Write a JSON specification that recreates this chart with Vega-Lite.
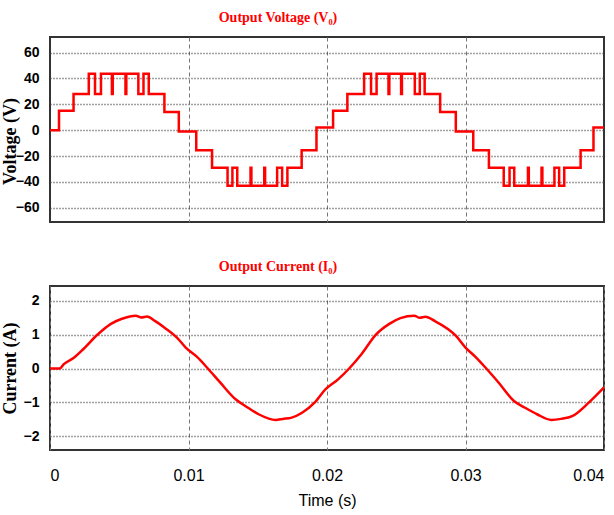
{
  "$schema": "https://vega.github.io/schema/vega-lite/v6.json",
  "padding": {"left": 0, "top": 10, "right": 0, "bottom": 0},
  "background": "white",
  "config": {
    "view": {"stroke": "#333", "strokeWidth": 2},
    "axis": {
      "labelFont": "Liberation Sans",
      "labelFontSize": 14, "labelColor": "#000", "labelFontWeight": "bold",
      "titleFont": "Liberation Serif", "titleFontWeight": "bold", "titleFontSize": 18, "titleColor": "#000",
      "ticks": false, "domain": false,
      "gridColor": "#444", "gridDash": [1, 2], "gridOpacity": 1, "gridWidth": 1.4
    },
    "title": {"font": "Liberation Serif", "fontSize": 14, "fontWeight": "bold", "color": "#ff0000", "anchor": "middle", "dx": -49, "offset": 12, "baseline": "alphabetic"},
    "concat": {"spacing": 36}
  },
  "datasets": {
    "volt": [
      {"t": 0, "v": 0}, {"t": 0.00065, "v": 15}, {"t": 0.0017, "v": 28}, {"t": 0.0028, "v": 43.5},
      {"t": 0.00325, "v": 28}, {"t": 0.00368, "v": 43.5}, {"t": 0.00447, "v": 28}, {"t": 0.00453, "v": 43.5},
      {"t": 0.00545, "v": 28}, {"t": 0.00551, "v": 43.5}, {"t": 0.00638, "v": 28}, {"t": 0.00675, "v": 43.5},
      {"t": 0.00713, "v": 28}, {"t": 0.00826, "v": 14}, {"t": 0.0093, "v": -1}, {"t": 0.01056, "v": -15.5},
      {"t": 0.0117, "v": -29}, {"t": 0.01282, "v": -43}, {"t": 0.01317, "v": -29}, {"t": 0.01352, "v": -43},
      {"t": 0.01448, "v": -29}, {"t": 0.01454, "v": -43}, {"t": 0.01547, "v": -29}, {"t": 0.01553, "v": -43},
      {"t": 0.0164, "v": -29}, {"t": 0.01676, "v": -43}, {"t": 0.01714, "v": -29}, {"t": 0.01817, "v": -15.5},
      {"t": 0.01924, "v": 2}, {"t": 0.02044, "v": 15}, {"t": 0.02147, "v": 28}, {"t": 0.02268, "v": 43.5},
      {"t": 0.02318, "v": 28}, {"t": 0.02358, "v": 43.5}, {"t": 0.02444, "v": 28}, {"t": 0.0245, "v": 43.5},
      {"t": 0.02535, "v": 28}, {"t": 0.02541, "v": 43.5}, {"t": 0.02634, "v": 28}, {"t": 0.0267, "v": 43.5},
      {"t": 0.02705, "v": 28}, {"t": 0.02817, "v": 14}, {"t": 0.0293, "v": -1}, {"t": 0.03056, "v": -15.5},
      {"t": 0.03169, "v": -29}, {"t": 0.03276, "v": -43}, {"t": 0.03318, "v": -29}, {"t": 0.03352, "v": -43},
      {"t": 0.03451, "v": -29}, {"t": 0.03457, "v": -43}, {"t": 0.03549, "v": -29}, {"t": 0.03555, "v": -43},
      {"t": 0.03642, "v": -29}, {"t": 0.03676, "v": -43}, {"t": 0.03713, "v": -29}, {"t": 0.03831, "v": -15.5},
      {"t": 0.03924, "v": 2}, {"t": 0.04, "v": 2}
    ],
    "cur": [
      {"t": 0, "i": 0}, {"t": 0.0007, "i": 0}, {"t": 0.001, "i": 0.13}, {"t": 0.0017, "i": 0.31},
      {"t": 0.0024, "i": 0.57}, {"t": 0.0034, "i": 0.99}, {"t": 0.0044, "i": 1.32}, {"t": 0.0052, "i": 1.47},
      {"t": 0.0062, "i": 1.56}, {"t": 0.0066, "i": 1.51}, {"t": 0.007, "i": 1.54}, {"t": 0.0076, "i": 1.4},
      {"t": 0.0083, "i": 1.2}, {"t": 0.0092, "i": 0.9}, {"t": 0.0098, "i": 0.62}, {"t": 0.0106, "i": 0.35},
      {"t": 0.0114, "i": 0}, {"t": 0.0123, "i": -0.42}, {"t": 0.0134, "i": -0.91}, {"t": 0.0143, "i": -1.16},
      {"t": 0.0151, "i": -1.36}, {"t": 0.0163, "i": -1.52}, {"t": 0.0168, "i": -1.49}, {"t": 0.0174, "i": -1.46},
      {"t": 0.0182, "i": -1.31}, {"t": 0.0191, "i": -1.01}, {"t": 0.0199, "i": -0.61}, {"t": 0.0208, "i": -0.32},
      {"t": 0.0216, "i": 0}, {"t": 0.0225, "i": 0.43}, {"t": 0.0235, "i": 0.99}, {"t": 0.0245, "i": 1.32},
      {"t": 0.0253, "i": 1.49}, {"t": 0.0263, "i": 1.56}, {"t": 0.0267, "i": 1.5}, {"t": 0.0271, "i": 1.53},
      {"t": 0.0278, "i": 1.4}, {"t": 0.0293, "i": 0.97}, {"t": 0.03, "i": 0.62}, {"t": 0.0307, "i": 0.35},
      {"t": 0.0315, "i": 0}, {"t": 0.0324, "i": -0.42}, {"t": 0.0335, "i": -0.96}, {"t": 0.0343, "i": -1.16},
      {"t": 0.0352, "i": -1.36}, {"t": 0.0362, "i": -1.52}, {"t": 0.0369, "i": -1.49}, {"t": 0.0377, "i": -1.41},
      {"t": 0.0389, "i": -1.01}, {"t": 0.04, "i": -0.56}
    ]
  },
  "vconcat": [
    {
      "width": 554, "height": 185,
      "title": "Output Voltage (V₀)",
      "data": {"name": "volt"},
      "mark": {"type": "line", "interpolate": "step-after", "color": "#ff0000", "strokeWidth": 2.5},
      "encoding": {
        "x": {"field": "t", "type": "quantitative", "scale": {"domain": [0, 0.04], "nice": false, "zero": false},
              "axis": {"values": [0.01, 0.02, 0.03], "labels": false, "title": null, "grid": true, "gridDash": [4, 3], "gridColor": "#777", "gridWidth": 1}},
        "y": {"field": "v", "type": "quantitative", "scale": {"domain": [-71, 72], "nice": false, "zero": false},
              "axis": {"values": [-60, -40, -20, 0, 20, 40, 60], "format": "d", "title": "Voltage (V)", "labelPadding": 11, "titleX": -40, "titleY": 104, "titleBaseline": "middle"}}
      }
    },
    {
      "width": 554, "height": 164,
      "title": "Output Current (I₀)",
      "data": {"name": "cur"},
      "mark": {"type": "line", "interpolate": "monotone", "color": "#ff0000", "strokeWidth": 2.5},
      "encoding": {
        "x": {"field": "t", "type": "quantitative", "scale": {"domain": [0, 0.04], "nice": false, "zero": false},
              "axis": {"values": [0, 0.01, 0.02, 0.03, 0.04], "format": "~g", "title": "Time (s)", "labelFontWeight": "normal", "labelFontSize": 16, "titleFont": "Liberation Sans", "titleFontWeight": "normal", "titleFontSize": 16, "labelPadding": 17, "titlePadding": 9, "grid": true, "gridDash": [4, 3], "gridColor": "#777", "gridWidth": 1}},
        "y": {"field": "i", "type": "quantitative", "scale": {"domain": [-2.41, 2.44], "nice": false, "zero": false},
              "axis": {"values": [-2, -1, 0, 1, 2], "format": "d", "title": "Current (A)", "labelPadding": 11, "titleX": -40, "titleBaseline": "middle"}}
      }
    }
  ]
}
